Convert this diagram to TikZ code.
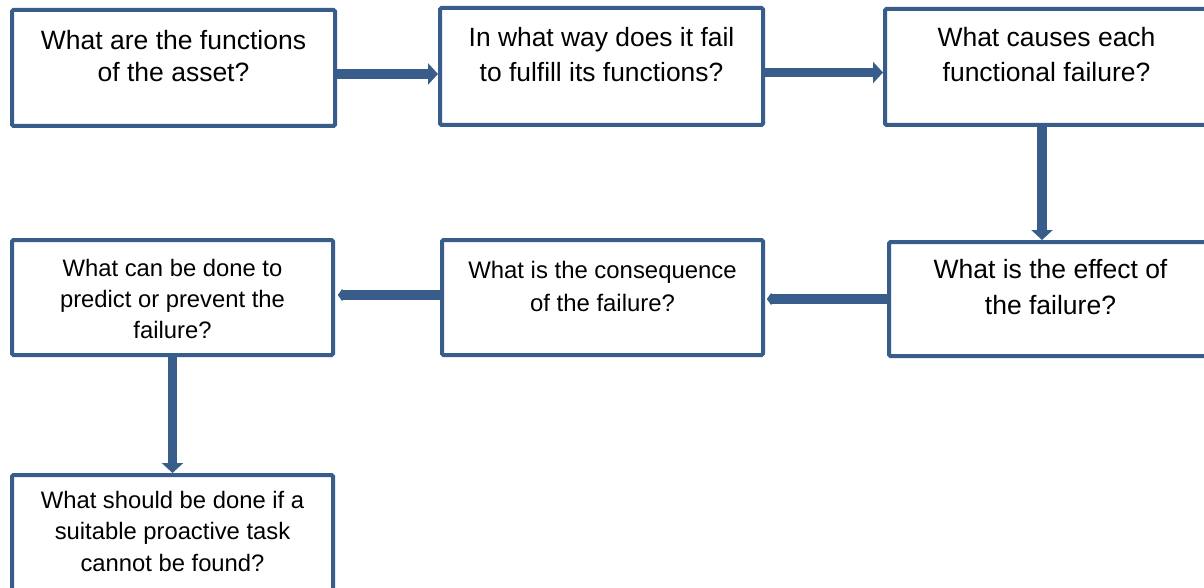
\documentclass[tikz,border=0pt]{standalone}
\usepackage{fontspec}
\setmainfont{Liberation Sans}
\usetikzlibrary{arrows.meta}
\definecolor{frame}{RGB}{56,93,138}
% box contents: width, height, gap above the first line, lines
\newcommand{\qtext}[4]{\parbox[c][#2][t]{#1}{\centering\vskip#3\relax #4\par}}
\begin{document}
\begin{tikzpicture}[x=1pt,y=-1pt,
  qbox/.style={draw=frame, line width=4pt, inner sep=0pt, rounded corners=1.5pt},
  bigtext/.style={font=\fontsize{26.5}{32}\selectfont},
  smalltext/.style={font=\fontsize{23.8}{31}\selectfont},
  flow/.style={draw=frame, line width=9.5pt},
  bighead/.style={-{Triangle[width=21pt,length=10pt]}},
  smallhead/.style={-{Triangle[width=14pt,length=5pt,round]}}]
\fill[white] (0,0) rectangle (1204,588);
\useasboundingbox (0,0) rectangle (1204,588);

% top row
\node[qbox, bigtext] (b1) at (173.5,68)
  {\qtext{323pt}{116pt}{20pt}{What are the functions\\of the asset?}};
\node[qbox, bigtext, font=\fontsize{26.4}{35}\selectfont] (b2) at (601.5,66.5)
  {\qtext{323pt}{117pt}{19.4pt}{In what way does it fail\\to fulfill its functions?}};
\node[qbox, bigtext, font=\fontsize{26.5}{35}\selectfont] (b3) at (1046.5,67)
  {\qtext{323pt}{116pt}{18.4pt}{What causes each\\functional failure?}};

% middle row
\node[qbox, bigtext, font=\fontsize{26.5}{36.7}\selectfont] (b4) at (1050.5,299)
  {\qtext{323pt}{114pt}{17pt}{What is the effect of\\the failure?}};
\node[qbox, smalltext, font=\fontsize{23.9}{33}\selectfont] (b5) at (602.5,297.5)
  {\qtext{321pt}{115pt}{20.9pt}{What is the consequence\\of the failure?}};
\node[qbox, smalltext, font=\fontsize{23.8}{30.8}\selectfont] (b6) at (172.5,297.5)
  {\qtext{321pt}{115pt}{19.3pt}{What can be done to\\predict or prevent the\\failure?}};

% bottom row
\node[qbox, smalltext, font=\fontsize{23.8}{31.7}\selectfont] (b7) at (172.5,533)
  {\qtext{321pt}{116pt}{15.9pt}{What should be done if a\\suitable proactive task\\cannot be found?}};

% connectors
\draw[flow, bighead] ([yshift=-6pt]b1.east) -- ([yshift=-6pt]b1.east -| b2.west);
\draw[flow, bighead] ([yshift=-6pt]b2.east) -- ([yshift=-6pt]b2.east -| b3.west);
\draw[flow, bighead] ([xshift=-4.5pt]b3.south) -- ([xshift=-4.5pt]b3.south |- b4.north);
\draw[flow, smallhead] (b4.west) -- ([xshift=2pt]b4.west -| b5.east);
\draw[flow, smallhead] ([yshift=2.5pt]b5.west) -- ([xshift=3pt,yshift=2.5pt]b5.west -| b6.east);
\draw[flow, bighead] (b6.south) -- (b7.north);
\end{tikzpicture}
\end{document}
